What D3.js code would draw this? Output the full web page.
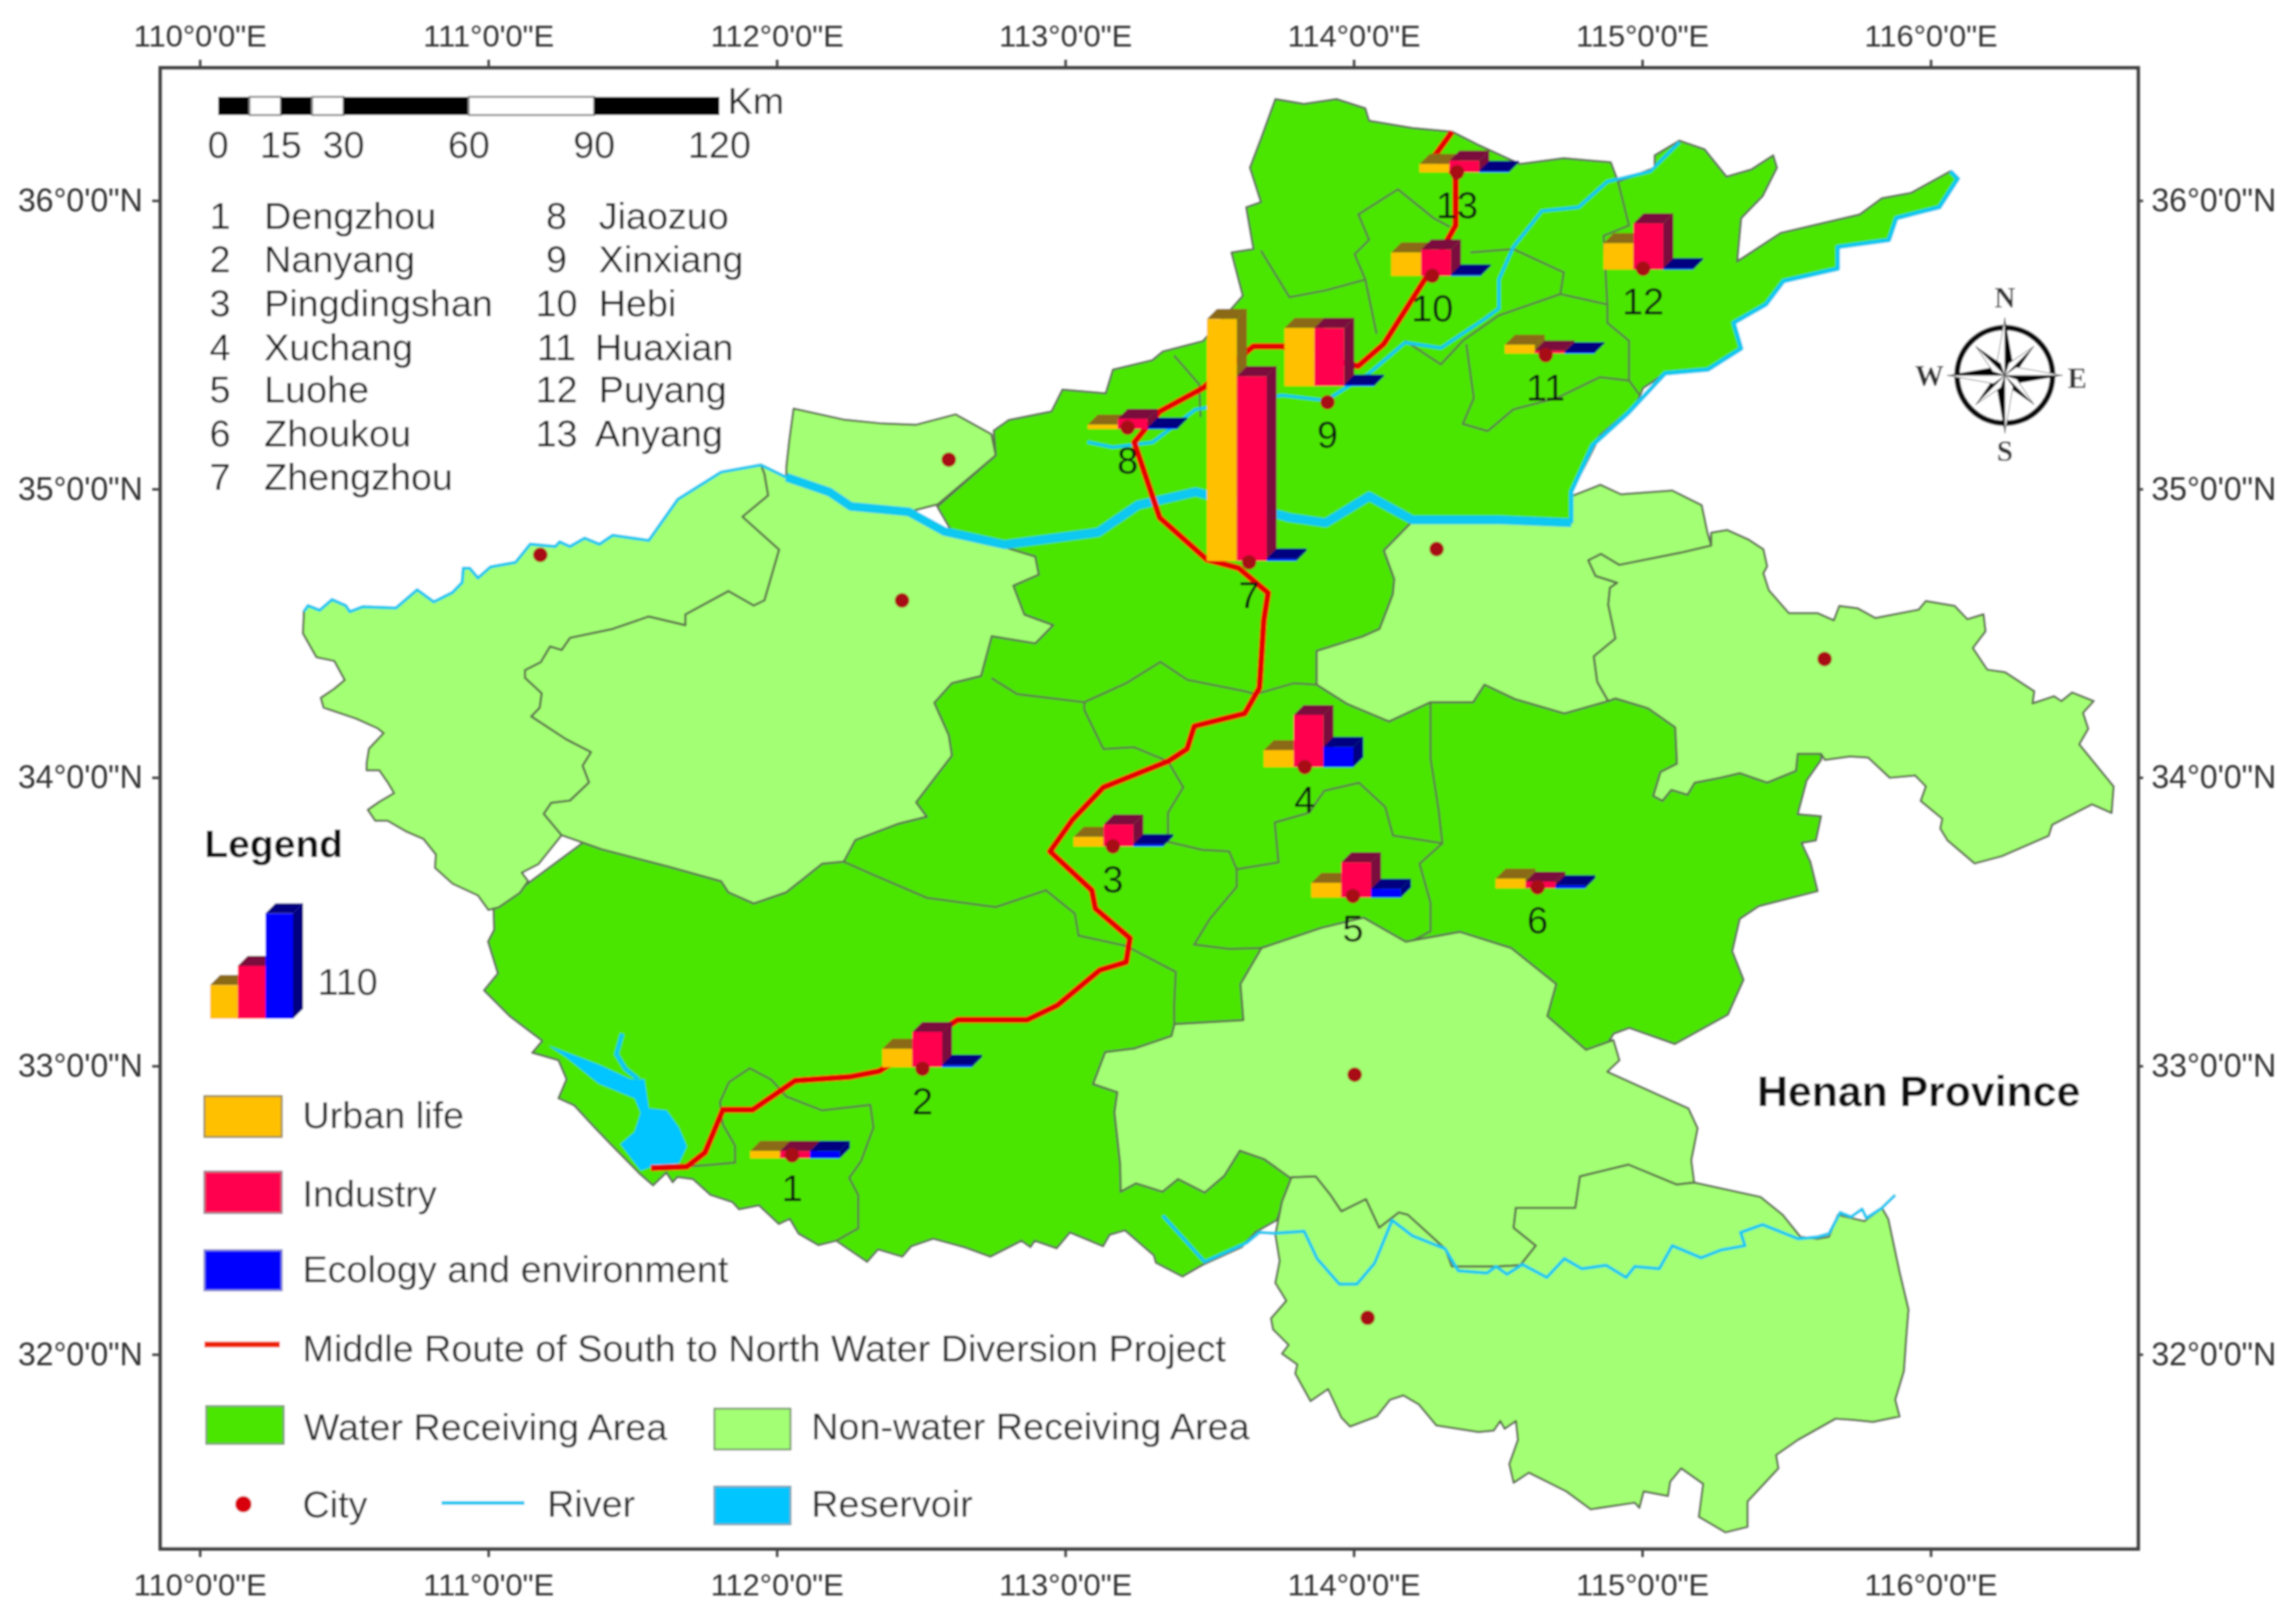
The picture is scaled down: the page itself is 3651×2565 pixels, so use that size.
<!DOCTYPE html>
<html>
<head>
<meta charset="utf-8">
<title>Henan Province water demand</title>
<script src="https://cdnjs.cloudflare.com/ajax/libs/d3/7.8.5/d3.min.js"></script>
<style>
    html, body { margin: 0; padding: 0; background: #fff; }
    svg { display: block; font-family: "Liberation Sans", Arial, sans-serif; }
    .axis text { font-size: 49px; fill: #333; }
    .axis.lat text { font-size: 51px; }
    .axis line { stroke: #444; stroke-width: 4px; }
    .axis path { display: none; }
</style>
</head>
<body>
<div id="map"></div>
<script>
// ---- axes
const lonTicks = [110, 111, 112, 113, 114, 115, 116];
const latTicks = [32, 33, 34, 35, 36];

// ---- cities with water receiving (numbered)
const cityNames = ["Dengzhou", "Nanyang", "Pingdingshan", "Xuchang", "Luohe", "Zhoukou", "Zhengzhou",
    "Jiaozuo", "Xinxiang", "Hebi", "Huaxian", "Puyang", "Anyang"];
const cityLon = [112.053, 112.505, 113.165, 113.830, 113.997, 114.637, 113.637, 113.216, 113.909, 114.272, 114.665, 115.003, 114.358];
const cityLat = [32.690, 32.990, 33.761, 34.036, 33.589, 33.619, 34.746, 35.213, 35.301, 35.739, 35.464, 35.764, 36.098];
// bar group anchor (middle of base)
const chartLon = [112.063, 112.521, 113.184, 113.843, 114.008, 114.647, 113.646, 113.233, 113.915, 114.285, 114.679, 115.021, 114.383];
const chartLat = [32.680, 32.996, 33.761, 34.036, 33.584, 33.616, 34.751, 35.208, 35.357, 35.739, 35.470, 35.761, 36.098];
// values
const urbanLife = [4.2, 10.5, 5.5, 9.7, 8.4, 5.5, 138.7, 2.5, 33.3, 13.4, 5, 15.1, 4.8];
const industry = [4.2, 20.2, 12.6, 29.9, 20.2, 3.8, 105.9, 5.9, 33.3, 15.1, 1.7, 26.5, 6.7];
const ecology = [4.2, 1.3, 1.3, 11.6, 5, 1.7, 1.3, 0.8, 0.8, 0.8, 0.8, 0.8, 0.8];
const legendBars = [19.3, 30.3, 60.4];

// ---- other cities (no number)
const otherCityLon = [112.596, 111.180, 112.434, 114.287, 115.632, 114.003, 114.048];
const otherCityLat = [35.102, 34.772, 34.614, 34.792, 34.411, 32.970, 32.127];

// ---- scale bar
const scaleKm = [0, 7.5, 15, 22.5, 30, 60, 90, 120];
const scaleLabels = [0, 15, 30, 60, 90, 120];

// ---- shared boundary pieces, lon/lat
const yellowWest = [[110.360, 34.575], [110.375, 34.596], [110.415, 34.580], [110.458, 34.617], [110.506, 34.596], [110.520, 34.575],
    [110.564, 34.592], [110.680, 34.588], [110.753, 34.651], [110.811, 34.609], [110.876, 34.642], [110.909, 34.676],
    [110.913, 34.726], [110.935, 34.726], [110.964, 34.692], [111.007, 34.730], [111.094, 34.746], [111.145, 34.809],
    [111.232, 34.801], [111.247, 34.817], [111.283, 34.801], [111.334, 34.830], [111.385, 34.809], [111.431, 34.840],
    [111.556, 34.822], [111.657, 34.965], [111.807, 35.059], [111.945, 35.084]];
const yellowMiddle = [[112.033, 35.041], [112.182, 34.990], [112.256, 34.940], [112.457, 34.921], [112.581, 34.853]];
const sanmenLuoyang = [[111.957, 35.053], [111.970, 34.978], [111.881, 34.904], [112.008, 34.790], [111.957, 34.614], [111.920, 34.596],
    [111.832, 34.646], [111.683, 34.565], [111.683, 34.528], [111.556, 34.558], [111.431, 34.515], [111.283, 34.484],
    [111.254, 34.442], [111.214, 34.454], [111.182, 34.400], [111.127, 34.372], [111.127, 34.346], [111.185, 34.292],
    [111.178, 34.242], [111.149, 34.212], [111.269, 34.133], [111.356, 34.088], [111.327, 34.041], [111.349, 33.983],
    [111.283, 33.920], [111.218, 33.912], [111.192, 33.874], [111.254, 33.800]];
const kaifengShangqiu = [[115.239, 34.804], [115.132, 34.779], [114.920, 34.737], [114.857, 34.775], [114.813, 34.753], [114.838, 34.699],
    [114.913, 34.675], [114.888, 34.658], [114.882, 34.599], [114.907, 34.482], [114.832, 34.420], [114.844, 34.332],
    [114.882, 34.265]];
const zhumaXinyang = [[115.180, 32.596], [115.119, 32.589], [114.952, 32.658], [114.784, 32.617], [114.768, 32.508], [114.562, 32.508],
    [114.554, 32.439], [114.631, 32.377], [114.577, 32.309], [114.493, 32.305], [114.340, 32.305], [114.317, 32.366],
    [114.271, 32.408], [114.187, 32.484], [114.156, 32.492], [114.088, 32.439], [114.042, 32.538], [113.957, 32.496],
    [113.919, 32.553], [113.868, 32.617], [113.784, 32.614]];

// ---- non water receiving area
const sanmenxia = [...yellowWest, ...sanmenLuoyang,
    [111.174, 33.700], [111.116, 33.670], [111.138, 33.641], [111.109, 33.600], [111.036, 33.550], [111.000, 33.541],
    [110.964, 33.591], [110.876, 33.632], [110.815, 33.687], [110.818, 33.733], [110.775, 33.787], [110.717, 33.812],
    [110.651, 33.850], [110.608, 33.850], [110.582, 33.888], [110.622, 33.916], [110.673, 33.946], [110.651, 33.983],
    [110.622, 34.025], [110.578, 34.025], [110.578, 34.050], [110.586, 34.100], [110.637, 34.154], [110.615, 34.171],
    [110.542, 34.204], [110.429, 34.242], [110.419, 34.276], [110.466, 34.308], [110.502, 34.338], [110.466, 34.404],
    [110.404, 34.417], [110.357, 34.500], [110.360, 34.559]];
const luoyang = [[111.945, 35.084], ...yellowMiddle,
    [112.794, 34.797], [112.896, 34.766], [112.908, 34.703], [112.820, 34.665], [112.858, 34.565], [112.958, 34.528],
    [112.896, 34.465], [112.745, 34.490], [112.708, 34.352], [112.607, 34.327], [112.546, 34.259], [112.596, 34.147],
    [112.607, 34.076], [112.483, 33.914], [112.520, 33.864], [112.419, 33.839], [112.272, 33.783], [112.232, 33.708],
    [112.157, 33.701], [112.033, 33.602], [111.920, 33.563], [111.832, 33.602], [111.807, 33.640], [111.632, 33.689],
    [111.393, 33.751], ...sanmenLuoyang.slice().reverse()];
const jiyuan = [[112.033, 35.041], [112.033, 35.078], [112.043, 35.168], [112.058, 35.279], [112.231, 35.241], [112.358, 35.228],
    [112.483, 35.223], [112.620, 35.259], [112.744, 35.190], [112.759, 35.117], [112.558, 34.947], [112.457, 34.921],
    [112.256, 34.940], [112.182, 34.990]];
const kaifeng = [[114.203, 34.888], [114.503, 34.893], [114.754, 34.883], [114.754, 34.975], [114.855, 35.015], [114.926, 34.982],
    [115.104, 34.995], [115.206, 34.944], [115.226, 34.849], ...kaifengShangqiu,
    [114.730, 34.222], [114.558, 34.272], [114.453, 34.322], [114.414, 34.261], [114.266, 34.261],
    [114.122, 34.194], [113.977, 34.255], [113.871, 34.322], [113.871, 34.439], [114.030, 34.489], [114.089, 34.515],
    [114.135, 34.635], [114.140, 34.688], [114.104, 34.787]];
const shangqiu = [...kaifengShangqiu.slice().reverse(), [115.239, 34.849], [115.295, 34.858], [115.370, 34.824], [115.420, 34.791], [115.433, 34.732],
    [115.420, 34.708], [115.439, 34.649], [115.508, 34.570], [115.607, 34.570], [115.664, 34.545], [115.683, 34.595],
    [115.746, 34.587], [115.808, 34.553], [115.958, 34.582], [115.983, 34.612], [116.083, 34.595], [116.127, 34.549],
    [116.183, 34.566], [116.190, 34.507], [116.146, 34.449], [116.196, 34.374], [116.258, 34.365], [116.359, 34.299],
    [116.353, 34.257], [116.427, 34.282], [116.453, 34.265], [116.490, 34.295], [116.565, 34.265], [116.528, 34.224],
    [116.546, 34.169], [116.515, 34.115], [116.634, 33.969], [116.627, 33.877], [116.559, 33.907], [116.421, 33.836],
    [116.409, 33.798], [116.246, 33.727], [116.152, 33.702], [116.058, 33.782], [116.033, 33.823], [116.040, 33.857],
    [115.965, 33.919], [115.983, 33.969], [115.946, 34.007], [115.858, 33.999], [115.783, 34.069], [115.720, 34.073],
    [115.633, 34.061], [115.620, 34.082], [115.539, 34.082], [115.533, 34.023], [115.433, 33.982], [115.339, 34.015],
    [115.270, 33.999], [115.182, 33.982], [115.157, 33.940], [115.101, 33.957], [115.070, 33.919], [115.038, 33.936],
    [115.063, 34.019], [115.120, 34.048], [115.114, 34.174], [115.020, 34.240], [114.907, 34.274]];
const zhumadian = [[113.680, 33.409], [113.888, 33.479], [114.034, 33.514], [114.180, 33.431], [114.368, 33.465], [114.546, 33.409],
    [114.702, 33.284], [114.671, 33.173], [114.805, 33.056], [114.900, 33.090], [114.921, 33.020], [114.879, 32.980],
    [115.160, 32.853], [115.192, 32.784], [115.170, 32.673], ...zhumaXinyang,
    [113.781, 32.611], [113.689, 32.677], [113.605, 32.706], [113.551, 32.619], [113.483, 32.561], [113.391, 32.608],
    [113.337, 32.564], [113.245, 32.593], [113.192, 32.564], [113.190, 32.660],
    [113.170, 32.839], [113.180, 32.909], [113.096, 32.937], [113.138, 33.048], [113.241, 33.061], [113.368, 33.104],
    [113.378, 33.145], [113.617, 33.159], [113.607, 33.284]];
const xinyang = [[113.784, 32.614], [113.751, 32.530], [113.728, 32.416], [113.743, 32.324], [113.728, 32.248], [113.766, 32.186],
    [113.713, 32.125], [113.720, 32.087], [113.774, 32.033], [113.751, 32.003], [113.804, 31.965], [113.797, 31.934],
    [113.850, 31.838], [113.911, 31.880], [113.957, 31.781], [113.987, 31.750], [114.080, 31.785], [114.126, 31.843],
    [114.172, 31.858], [114.225, 31.827], [114.286, 31.754], [114.432, 31.731], [114.485, 31.736], [114.508, 31.769],
    [114.523, 31.742], [114.562, 31.769], [114.569, 31.704], [114.539, 31.620], [114.554, 31.555], [114.607, 31.590],
    [114.737, 31.525], [114.821, 31.463], [114.974, 31.486], [114.990, 31.468], [115.005, 31.525], [115.089, 31.509],
    [115.097, 31.559], [115.135, 31.605], [115.211, 31.551], [115.196, 31.437], [115.288, 31.383], [115.365, 31.402],
    [115.365, 31.490], [115.472, 31.605], [115.464, 31.651], [115.540, 31.704], [115.670, 31.777], [115.731, 31.773],
    [115.800, 31.766], [115.892, 31.785], [115.877, 31.843], [115.907, 31.942], [115.915, 32.056], [115.923, 32.156],
    [115.892, 32.286], [115.853, 32.469], [115.831, 32.508], [115.770, 32.462], [115.678, 32.484], [115.647, 32.408],
    [115.609, 32.401], [115.548, 32.408], [115.487, 32.484], [115.410, 32.546], ...zhumaXinyang];
const nonReceiving = [sanmenxia, luoyang, jiyuan, kaifeng, shangqiu, zhumadian, xinyang];

// ---- water receiving area (runs under the lighter polygons)
const receiving = [[112.752, 35.203], [112.803, 35.239], [112.952, 35.269], [112.990, 35.345], [113.140, 35.332], [113.165, 35.414],
    [113.302, 35.447], [113.338, 35.477], [113.477, 35.513], [113.615, 35.670], [113.576, 35.820], [113.652, 35.832],
    [113.627, 35.977], [113.678, 35.995], [113.640, 36.114], [113.678, 36.214], [113.728, 36.352], [113.827, 36.335],
    [113.940, 36.352], [114.040, 36.320], [114.053, 36.277], [114.203, 36.252], [114.341, 36.239], [114.428, 36.195],
    [114.576, 36.127], [114.728, 36.147], [114.891, 36.133], [114.916, 36.066], [115.043, 36.114], [115.043, 36.157],
    [115.129, 36.208], [115.216, 36.178], [115.292, 36.083], [115.378, 36.108], [115.454, 36.157], [115.467, 36.114],
    [115.417, 36.015], [115.343, 35.939], [115.329, 35.789], [115.480, 35.888], [115.754, 35.952], [115.830, 36.008],
    [115.932, 36.027], [116.068, 36.102], [116.094, 36.076], [116.030, 35.977], [115.881, 35.939], [115.855, 35.863],
    [115.678, 35.839], [115.678, 35.764], [115.490, 35.721], [115.429, 35.640], [115.317, 35.576], [115.343, 35.487],
    [115.228, 35.414], [115.079, 35.401], [115.003, 35.350], [114.977, 35.289], [114.855, 35.188], [114.805, 35.088],
    [114.754, 34.990], [114.766, 34.888], [114.992, 34.563], [115.602, 34.157], [115.620, 34.082], [115.620, 34.061],
    [115.570, 33.990], [115.539, 33.873], [115.620, 33.866], [115.602, 33.782], [115.552, 33.773], [115.583, 33.707],
    [115.608, 33.606], [115.404, 33.554], [115.338, 33.510],
    [115.312, 33.398], [115.351, 33.299], [115.297, 33.178], [115.113, 33.076], [114.955, 33.132], [114.901, 33.112],
    [114.840, 33.015], [113.784, 32.614], [113.734, 32.466], [113.658, 32.423], [113.612, 32.372], [113.475, 32.310],
    [113.406, 32.270], [113.314, 32.318], [113.307, 32.343], [113.207, 32.430], [113.154, 32.415], [113.131, 32.375],
    [113.016, 32.423], [112.970, 32.368], [112.894, 32.394], [112.879, 32.372], [112.848, 32.394], [112.740, 32.339],
    [112.649, 32.372], [112.542, 32.401], [112.466, 32.375], [112.435, 32.339], [112.351, 32.364], [112.313, 32.321],
    [112.206, 32.394], [112.144, 32.379], [112.075, 32.419], [112.045, 32.470], [112.007, 32.452], [111.938, 32.517],
    [111.869, 32.503], [111.846, 32.528], [111.770, 32.553], [111.709, 32.608], [111.655, 32.615], [111.639, 32.597],
    [111.617, 32.630], [111.571, 32.586], [111.525, 32.626],
    [111.424, 32.729], [111.368, 32.787], [111.298, 32.863], [111.243, 32.888], [111.271, 32.954], [111.243, 33.020],
    [111.152, 33.046], [111.187, 33.087], [111.076, 33.171], [110.985, 33.262], [111.033, 33.321], [110.999, 33.431],
    [111.020, 33.472], [111.018, 33.545], [111.845, 34.157], [112.657, 34.766], [112.556, 34.939], [112.759, 35.117]];

// ---- county boundaries inside the receiving area
const countyLines = [
    [[112.744, 34.345], [112.833, 34.289], [113.066, 34.261], [113.211, 34.327], [113.330, 34.401], [113.422, 34.339], [113.622, 34.299], [113.660, 34.289], [113.792, 34.327], [113.871, 34.322]],
    [[113.066, 34.261], [113.066, 34.234], [113.132, 34.099], [113.238, 34.105], [113.356, 34.056], [113.409, 33.966], [113.356, 33.878], [113.356, 33.777], [113.475, 33.749], [113.568, 33.744], [113.594, 33.682], [113.739, 33.706], [113.726, 33.844], [113.845, 33.878], [113.898, 33.954], [114.018, 33.982], [114.109, 33.898], [114.136, 33.799], [114.307, 33.772], [114.294, 33.888], [114.266, 34.066], [114.266, 34.261]],
    [[114.307, 33.772], [114.228, 33.701], [114.266, 33.566], [114.266, 33.467], [114.188, 33.426]],
    [[113.594, 33.682], [113.594, 33.621], [113.501, 33.510], [113.447, 33.421], [113.568, 33.406], [113.680, 33.409]],
    [[112.232, 33.708], [112.332, 33.664], [112.520, 33.583], [112.759, 33.551], [112.933, 33.609], [113.033, 33.528], [113.046, 33.452], [113.211, 33.416], [113.383, 33.326], [113.377, 33.206], [113.378, 33.145]],
    [[111.668, 32.650], [111.751, 32.656], [111.855, 32.665], [111.855, 32.724], [111.813, 32.797], [111.803, 32.875], [111.834, 32.944], [111.906, 32.992], [111.980, 32.953], [112.033, 32.894], [112.157, 32.846], [112.324, 32.865], [112.335, 32.787], [112.292, 32.670], [112.251, 32.612], [112.282, 32.553], [112.282, 32.437], [112.206, 32.394]],
    [[113.678, 35.827], [113.777, 35.665], [113.904, 35.689], [114.040, 35.726], [114.003, 35.814], [114.053, 35.864], [114.016, 35.952], [114.153, 36.039], [114.277, 35.939], [114.333, 35.909]],
    [[114.040, 35.726], [114.079, 35.538]],
    [[114.404, 35.820], [114.553, 35.832], [114.728, 35.751], [114.716, 35.676], [114.503, 35.602], [114.378, 35.514], [114.302, 35.432], [114.178, 35.514]],
    [[114.390, 35.503], [114.416, 35.315], [114.378, 35.226], [114.464, 35.201], [114.553, 35.276], [114.703, 35.315], [114.853, 35.388], [114.954, 35.376], [114.992, 35.325]],
    [[114.916, 36.066], [114.954, 35.914], [114.866, 35.878], [114.879, 35.640], [114.879, 35.576], [114.954, 35.514], [114.954, 35.376]],
    [[114.716, 35.676], [114.879, 35.640]],
    [[113.377, 35.463], [113.464, 35.363], [113.469, 35.249]],
    [[113.207, 32.695], [113.253, 32.645]]
];

// ---- water
const yellowWide = [...yellowMiddle, [112.789, 34.807], [113.114, 34.850], [113.251, 34.944], [113.452, 34.990], [113.777, 34.901], [113.903, 34.883],
    [114.053, 34.975], [114.203, 34.893], [114.503, 34.893], [114.754, 34.883]];
const yellowEast = [[114.754, 34.883], [114.754, 34.990], [114.828, 35.152], [114.952, 35.264], [115.079, 35.401], [115.228, 35.414], [115.343, 35.487],
    [115.317, 35.576], [115.429, 35.640], [115.490, 35.721], [115.678, 35.764], [115.678, 35.839], [115.855, 35.863],
    [115.881, 35.939], [116.030, 35.977], [116.094, 36.076], [116.068, 36.102]];
const weiRiver = [[113.077, 35.163], [113.165, 35.145], [113.302, 35.162], [113.452, 35.276], [113.752, 35.325], [113.903, 35.307], [114.053, 35.401],
    [114.178, 35.508], [114.302, 35.489], [114.453, 35.589], [114.503, 35.626], [114.503, 35.726], [114.553, 35.839],
    [114.652, 35.964], [114.779, 35.977], [114.879, 36.066], [115.028, 36.102], [115.129, 36.203]];
const huaiRiver = [[113.338, 32.481], [113.483, 32.321], [113.628, 32.386], [113.673, 32.423], [113.725, 32.420], [113.828, 32.427],
    [113.873, 32.332], [113.950, 32.244], [114.011, 32.244], [114.072, 32.316], [114.133, 32.465], [114.202, 32.412],
    [114.317, 32.366], [114.362, 32.290], [114.462, 32.282], [114.493, 32.305], [114.531, 32.278], [114.585, 32.312],
    [114.669, 32.267], [114.730, 32.332], [114.791, 32.297], [114.875, 32.309], [114.944, 32.267], [114.974, 32.305],
    [115.059, 32.297], [115.104, 32.377], [115.204, 32.335], [115.273, 32.362], [115.356, 32.377], [115.341, 32.423],
    [115.417, 32.450], [115.540, 32.401], [115.609, 32.408], [115.647, 32.419], [115.686, 32.492], [115.724, 32.477],
    [115.762, 32.504], [115.777, 32.473], [115.831, 32.508], [115.877, 32.553]];
const reservoir = [[111.208, 33.071], [111.382, 33.005], [111.493, 32.954], [111.541, 32.954], [111.556, 32.853], [111.618, 32.846], [111.660, 32.787],
    [111.688, 32.721], [111.660, 32.662], [111.576, 32.655], [111.528, 32.637], [111.458, 32.729], [111.507, 32.772],
    [111.528, 32.838], [111.507, 32.888], [111.382, 32.939], [111.271, 33.029]];
const reservoirArm = [[111.464, 33.112], [111.444, 33.041], [111.475, 32.990], [111.520, 32.954]];

// ---- diversion canal
const diversionRoute = [[111.563, 32.646], [111.688, 32.651], [111.751, 32.700], [111.813, 32.848], [111.916, 32.848], [112.063, 32.949],
    [112.251, 32.962], [112.355, 32.982], [112.627, 33.160], [112.868, 33.160], [112.972, 33.210], [113.119, 33.332],
    [113.211, 33.360], [113.224, 33.443], [113.104, 33.546], [113.092, 33.609], [112.947, 33.744], [113.026, 33.855],
    [113.132, 33.966], [113.356, 34.056], [113.422, 34.099], [113.447, 34.178], [113.622, 34.222], [113.673, 34.311],
    [113.688, 34.544], [113.703, 34.640], [113.601, 34.726], [113.490, 34.756], [113.327, 34.901], [113.239, 35.162],
    [113.327, 35.269], [113.477, 35.350], [113.652, 35.495], [113.752, 35.495], [114.015, 35.426], [114.104, 35.503],
    [114.254, 35.739], [114.353, 35.914], [114.353, 36.089], [114.278, 36.152], [114.341, 36.239]];

const barColors = [
    { front: "#ffc000", top: "#8a6a14", side: "#8a6a14" },
    { front: "#ff0050", top: "#7a0a3c", side: "#7a0a3c" },
    { front: "#0000ff", top: "#000080", side: "#000080" }
];

class HenanMap {

    constructor(parentElement) {
        this.parentElement = parentElement;
        this.initVis();
    }

    /*
     * Initialize visualization (svg area, scales, axes)
     */
    initVis() {
        let vis = this;

        vis.width = 3651;
        vis.height = 2565;
        vis.frame = { left: 255, right: 3400, top: 108, bottom: 2463 };

        vis.svg = d3.select(`#${vis.parentElement}`).append("svg")
            .attr("width", vis.width)
            .attr("height", vis.height);

        // slight softening, the source is an upscaled raster
        vis.svg.append("defs").append("filter").attr("id", "soft")
            .append("feGaussianBlur").attr("stdDeviation", 1.6);
        vis.root = vis.svg.append("g").attr("filter", "url(#soft)");

        vis.x = d3.scaleLinear().domain([109.863, 116.719]).range([vis.frame.left, vis.frame.right]);
        vis.y = d3.scaleLinear().domain([31.326, 36.460]).range([vis.frame.bottom, vis.frame.top]);
        vis.barHeight = d3.scaleLinear().domain([0, 110]).range([0, 305]);
        vis.km = d3.scaleLinear().domain([0, 120]).range([347, 1144]);

        vis.line = d3.line().x(d => vis.x(d[0])).y(d => vis.y(d[1]));

        vis.updateVis();
    }

    /*
     * The drawing function
     */
    updateVis() {
        let vis = this;

        vis.drawAxes();

        // areas
        vis.root.append("path")
            .attr("d", vis.line(receiving) + "Z")
            .attr("fill", "#4ce600")
            .attr("stroke", "#5d6f50")
            .attr("stroke-width", 3.5)
            .attr("stroke-linejoin", "round");

        vis.root.append("g").selectAll("path")
            .data(countyLines)
            .join("path")
            .attr("d", vis.line)
            .attr("fill", "none")
            .attr("stroke", "#5d7f45")
            .attr("stroke-width", 3.5);

        vis.root.append("g").selectAll("path")
            .data(nonReceiving)
            .join("path")
            .attr("d", d => vis.line(d) + "Z")
            .attr("fill", "#a3ff73")
            .attr("stroke", "#5d6f50")
            .attr("stroke-width", 3.5)
            .attr("stroke-linejoin", "round");

        // water
        vis.root.append("path")
            .attr("d", vis.line(reservoir) + "Z")
            .attr("fill", "#00c5ff");

        let rivers = [
            { d: yellowWest, w: 5 }, { d: [[111.945, 35.084], ...yellowMiddle.slice(0, 2)], w: 5 }, { d: yellowWide, w: 14 },
            { d: yellowEast, w: 7 }, { d: weiRiver, w: 5 }, { d: huaiRiver, w: 5 }, { d: reservoirArm, w: 7 }
        ];
        vis.root.append("g").selectAll("path")
            .data(rivers)
            .join("path")
            .attr("d", d => vis.line(d.d))
            .attr("fill", "none")
            .attr("stroke", "#0cc8f0")
            .attr("stroke-width", d => d.w)
            .attr("stroke-linejoin", "round");

        // canal
        vis.root.append("path")
            .attr("d", vis.line(diversionRoute))
            .attr("fill", "none")
            .attr("stroke", "#e60000")
            .attr("stroke-width", 10)
            .attr("stroke-linejoin", "round");

        // bar symbols
        cityNames.forEach((name, i) => {
            vis.drawBars(vis.root, vis.x(chartLon[i]), vis.y(chartLat[i]), [urbanLife[i], industry[i], ecology[i]], 47.5, 16);
        });

        // city points
        let dots = cityLon.map((d, i) => [d, cityLat[i]]).concat(otherCityLon.map((d, i) => [d, otherCityLat[i]]));
        vis.root.append("g").selectAll("circle")
            .data(dots)
            .join("circle")
            .attr("cx", d => vis.x(d[0]))
            .attr("cy", d => vis.y(d[1]))
            .attr("r", 11.5)
            .attr("fill", "#a80d12");

        // city numbers
        vis.root.append("g").selectAll("text")
            .data(cityNames)
            .join("text")
            .attr("x", (d, i) => vis.x(cityLon[i]))
            .attr("y", (d, i) => vis.y(cityLat[i]) + 52)
            .attr("text-anchor", "middle")
            .attr("dominant-baseline", "central")
            .attr("font-size", 60)
            .attr("fill", "#111")
            .text((d, i) => i + 1);

        vis.root.append("text")
            .attr("x", 2794).attr("y", 1735)
            .attr("dominant-baseline", "central")
            .attr("font-size", 68)
            .attr("font-weight", "bold")
            .attr("fill", "#111")
            .text("Henan Province");

        vis.drawScaleBar();
        vis.drawCityList();
        vis.drawLegend();
        vis.drawCompass();
    }

    drawAxes() {
        let vis = this;
        let f = vis.frame;
        let lonFormat = d => `${d}°0'0"E`;
        let latFormat = d => `${d}°0'0"N`;

        vis.root.append("rect")
            .attr("x", f.left).attr("y", f.top)
            .attr("width", f.right - f.left).attr("height", f.bottom - f.top)
            .attr("fill", "#fff")
            .attr("stroke", "#444")
            .attr("stroke-width", 6);

        vis.root.append("g").attr("class", "axis")
            .attr("transform", `translate(0,${f.top})`)
            .call(d3.axisTop(vis.x).tickValues(lonTicks).tickFormat(lonFormat).tickSize(13).tickPadding(21));
        vis.root.append("g").attr("class", "axis")
            .attr("transform", `translate(0,${f.bottom})`)
            .call(d3.axisBottom(vis.x).tickValues(lonTicks).tickFormat(lonFormat).tickSize(13).tickPadding(26));
        vis.root.append("g").attr("class", "axis lat")
            .attr("transform", `translate(${f.left},0)`)
            .call(d3.axisLeft(vis.y).tickValues(latTicks).tickFormat(latFormat).tickSize(13).tickPadding(15));
        vis.root.append("g").attr("class", "axis lat")
            .attr("transform", `translate(${f.right},0)`)
            .call(d3.axisRight(vis.y).tickValues(latTicks).tickFormat(latFormat).tickSize(8).tickPadding(13));
    }

    // one 3D bar group: front rect, top and side faces
    drawBars(parent, cx, baseY, values, w, depth) {
        let vis = this;
        let g = parent.append("g");
        values.forEach((v, i) => {
            let left = cx - 1.5 * w + i * w;
            let h = vis.barHeight(v);
            let c = barColors[i];
            g.append("polygon")
                .attr("points", [[left + w, baseY - h], [left + w + depth, baseY - h - depth], [left + w + depth, baseY - depth], [left + w, baseY]].join(" "))
                .attr("fill", c.side);
            g.append("polygon")
                .attr("points", [[left, baseY - h], [left + depth, baseY - h - depth], [left + w + depth, baseY - h - depth], [left + w, baseY - h]].join(" "))
                .attr("fill", c.top);
            g.append("rect")
                .attr("x", left).attr("y", baseY - h)
                .attr("width", w).attr("height", h)
                .attr("fill", c.front);
        });
    }

    drawScaleBar() {
        let vis = this;
        let g = vis.root.append("g");
        d3.pairs(scaleKm).forEach((p, i) => {
            g.append("rect")
                .attr("x", vis.km(p[0])).attr("y", 154)
                .attr("width", vis.km(p[1]) - vis.km(p[0])).attr("height", 29)
                .attr("fill", i % 2 === 0 ? "#000" : "#fff")
                .attr("stroke", i % 2 === 0 ? "none" : "#888")
                .attr("stroke-width", 3);
        });
        g.selectAll("text.km")
            .data(scaleLabels)
            .join("text")
            .attr("class", "km")
            .attr("x", d => vis.km(d))
            .attr("y", 230)
            .attr("text-anchor", "middle")
            .attr("dominant-baseline", "central")
            .attr("font-size", 60)
            .attr("fill", "#222")
            .text(d => d);
        g.append("text")
            .attr("x", 1157).attr("y", 160)
            .attr("dominant-baseline", "central")
            .attr("font-size", 60)
            .attr("fill", "#222")
            .text("Km");
    }

    drawCityList() {
        let vis = this;
        let rows = [343, 412, 482, 552, 619, 689, 758];
        let g = vis.root.append("g")
            .attr("font-size", 60)
            .attr("fill", "#1c1c1c");
        cityNames.forEach((name, i) => {
            let left = i < 7;
            let r = left ? rows[i] : rows[i - 7];
            g.append("text")
                .attr("x", left ? 350 : 885)
                .attr("y", r)
                .attr("text-anchor", "middle")
                .attr("dominant-baseline", "central")
                .text(i + 1);
            g.append("text")
                .attr("x", left ? 420 : (name === "Huaxian" || name === "Anyang" ? 946 : 952))
                .attr("y", r)
                .attr("dominant-baseline", "central")
                .text(name);
        });
    }

    drawLegend() {
        let vis = this;
        let g = vis.root.append("g");

        let label = (text, x, y) => g.append("text")
            .attr("x", x).attr("y", y)
            .attr("dominant-baseline", "central")
            .attr("font-size", 60)
            .attr("fill", "#2b2b2b")
            .text(text);
        let swatch = (x, y, w, h, fill, stroke) => g.append("rect")
            .attr("x", x).attr("y", y).attr("width", w).attr("height", h)
            .attr("fill", fill).attr("stroke", stroke).attr("stroke-width", 3);

        g.append("text")
            .attr("x", 325).attr("y", 1341)
            .attr("dominant-baseline", "central")
            .attr("font-size", 62)
            .attr("font-weight", "bold")
            .attr("fill", "#111")
            .text("Legend");

        vis.drawBars(g, 400, 1620, legendBars, 44, 16);
        label("110", 505, 1561);

        swatch(325, 1743, 123, 65, "#ffc000", "#9a8a50");
        label("Urban life", 481, 1773);
        swatch(325, 1863, 123, 66, "#ff0050", "#a08090");
        label("Industry", 481, 1898);
        swatch(325, 1988, 123, 64, "#0000ff", "#8888cc");
        label("Ecology and environment", 481, 2018);

        g.append("line")
            .attr("x1", 325).attr("x2", 445)
            .attr("y1", 2138).attr("y2", 2138)
            .attr("stroke", "#ee2200").attr("stroke-width", 9);
        label("Middle Route of South to North Water Diversion Project", 481, 2144);

        swatch(328, 2236, 123, 60, "#4ce600", "#7a9a70");
        label("Water Receiving Area", 483, 2269);
        swatch(1136, 2240, 121, 65, "#a3ff73", "#7a9a70");
        label("Non-water Receiving Area", 1290, 2268);

        g.append("circle").attr("cx", 387).attr("cy", 2392).attr("r", 13).attr("fill", "#d80010");
        label("City", 481, 2392);
        g.append("line")
            .attr("x1", 702).attr("x2", 834)
            .attr("y1", 2390).attr("y2", 2390)
            .attr("stroke", "#19c8f0").attr("stroke-width", 6);
        label("River", 870, 2391);
        swatch(1136, 2364, 121, 60, "#00c5ff", "#7aa0b0");
        label("Reservoir", 1290, 2391);
    }

    drawCompass() {
        let vis = this;
        let cx = 3188, cy = 597;
        let g = vis.root.append("g").attr("transform", `translate(${cx},${cy})`);

        g.append("circle").attr("r", 76).attr("fill", "none").attr("stroke", "#111").attr("stroke-width", 9);

        // eight pointed star, each point split into a dark and a light half
        d3.range(0, 360, 45).forEach(a => {
            let cardinal = a % 90 === 0;
            let len = cardinal ? 92 : 66;
            let half = cardinal ? 13 : 9;
            let rot = g.append("g").attr("transform", `rotate(${a})`);
            rot.append("polygon").attr("points", `0,${-len} ${half},-18 0,0`).attr("fill", "#000");
            rot.append("polygon").attr("points", `0,${-len} ${-half},-18 0,0`).attr("fill", "#fff").attr("stroke", "#555").attr("stroke-width", 1);
        });

        let letters = [["N", 0, -124], ["S", 0, 120], ["W", -120, 0], ["E", 115, 4]];
        g.selectAll("text")
            .data(letters)
            .join("text")
            .attr("x", d => d[1])
            .attr("y", d => d[2])
            .attr("text-anchor", "middle")
            .attr("dominant-baseline", "central")
            .attr("font-family", "Liberation Serif, serif")
            .attr("font-weight", "bold")
            .attr("font-size", 46)
            .attr("fill", "#333")
            .text(d => d[0]);
    }
}

new HenanMap("map");
</script>
</body>
</html>
